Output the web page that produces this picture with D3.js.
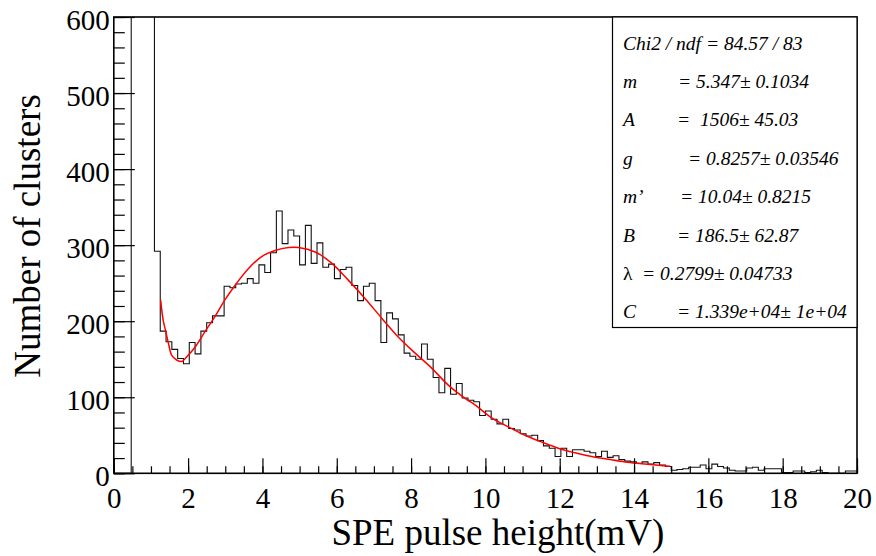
<!DOCTYPE html>
<html>
<head>
<meta charset="utf-8">
<script src="https://cdn.jsdelivr.net/npm/d3@7"></script>
<style>
  html, body { margin: 0; padding: 0; background: #fff; }
  svg { display: block; }
  svg text { font-family: "Liberation Serif", "Times New Roman", serif !important; fill: #000; white-space: pre; }
</style>
</head>
<body>
<svg id="chart" width="876" height="556"></svg>
<script>
// ---- data ----
const binLow = 0, binHigh = 20, nBins = 128;
const counts = [
  0, 0, 0, 2400, 2000, 1200, 700, 292, 187, 173,
  163, 151, 144, 172, 157, 187, 198, 207, 207, 246,
  244, 249, 250, 256, 250, 274, 264, 290, 345, 302,
  320, 312, 274, 326, 276, 303, 271, 275, 256, 268,
  271, 247, 227, 246, 250, 227, 172, 211, 203, 182,
  158, 154, 150, 170, 150, 126, 106, 138, 104, 118,
  99, 96, 94, 76, 82, 71, 65, 71, 59, 57,
  52, 49, 50, 43, 36, 33, 22, 33, 22, 31,
  31, 29, 27, 22, 29, 21, 23, 18, 16, 15,
  13, 15, 12, 14, 11, 9, 4, 5, 6, 8,
  8, 11, 6, 12, 9, 7, 4, 3, 3, 7,
  8, 4, 6, 6, 6, 1, 1, 3, 3, 1,
  2, 4, 1, 0, 0, 0, 3, 3
];
const fitX = [1.26, 1.33, 1.40, 1.47, 1.56, 1.69, 1.83, 1.96, 2.19, 2.45, 2.72, 2.99, 3.26, 3.62, 3.98, 4.34, 4.70, 4.97, 5.42, 5.87, 6.31, 6.76, 7.21, 7.66, 8.11, 8.56, 9.00, 9.50, 9.72, 10.17, 10.62, 11.07, 11.52, 11.96, 12.41, 12.86, 13.31, 13.76, 14.21, 14.66, 14.97];
const fitY = [228, 201, 186, 171, 155, 149, 147, 153, 166, 186, 206, 228, 247, 269, 285, 293, 297, 297, 291, 276, 254, 230, 204, 179, 158, 138, 116, 97, 90, 73, 61, 50, 41, 33, 27, 22, 18.4, 15, 12.7, 10.5, 9.2];
const xTicks = [0, 2, 4, 6, 8, 10, 12, 14, 16, 18, 20];
const yTicks = [0, 100, 200, 300, 400, 500, 600];
const xTitle = "SPE pulse height(mV)";
const yTitle = "Number of clusters";
const statNames = ["m", "A", "g", "m\u2019", "B", "\u03BB", "C"];
const statValues = ["= 5.347\u00B1 0.1034", "=\u00A0 1506\u00B1 45.03", "= 0.8257\u00B1 0.03546", "= 10.04\u00B1 0.8215", "= 186.5\u00B1 62.87", "= 0.2799\u00B1 0.04733", "= 1.339e+04\u00B1 1e+04"];
const statHeader = "Chi2 / ndf = 84.57 / 83";

// ---- layout ----
const L = 113.8, R = 857, T = 17, B = 473.3;
const svg = d3.select("#chart");
const x = d3.scaleLinear().domain([0, 20]).range([L, R]);
const y = d3.scaleLinear().domain([0, 600]).range([B, T]);

svg.append("defs").append("clipPath").attr("id", "clip")
  .append("rect").attr("x", L).attr("y", T).attr("width", R - L).attr("height", B - T);

// histogram step path
const bw = (binHigh - binLow) / nBins;
let pts = [];
counts.forEach((c, i) => {
  pts.push([binLow + i * bw, c]);
  pts.push([binLow + (i + 1) * bw, c]);
});
const histLine = d3.line().x(d => x(d[0])).y(d => y(d[1]));
svg.append("path")
  .attr("d", histLine(pts))
  .attr("clip-path", "url(#clip)")
  .attr("fill", "none").attr("stroke", "#111").attr("stroke-width", 1.1);

// fit curve
const fitLine = d3.line().x(d => x(d[0])).y(d => y(d[1])).curve(d3.curveCatmullRom.alpha(0.5));
svg.append("path")
  .attr("d", fitLine(fitX.map((v, i) => [v, fitY[i]])))
  .attr("fill", "none").attr("stroke", "#ff0000").attr("stroke-width", 1.5);

// axes (ticks pointing inward)
const gx = svg.append("g").attr("transform", `translate(0,${B})`);
gx.call(d3.axisBottom(x).tickValues(d3.range(0, 20.01, 0.5)).tickSize(-7).tickFormat(""));
const gx2 = svg.append("g").attr("transform", `translate(0,${B})`);
gx2.call(d3.axisBottom(x).tickValues(xTicks).tickSize(-15).tickPadding(12).tickFormat(d3.format("d")));
const gy = svg.append("g").attr("transform", `translate(${L},0)`);
gy.call(d3.axisLeft(y).tickValues(d3.range(0, 601, 20)).tickSize(-11).tickFormat(""));
const gy2 = svg.append("g").attr("transform", `translate(${L},0)`);
gy2.call(d3.axisLeft(y).tickValues(yTicks).tickSize(-21).tickPadding(4).tickFormat(d3.format("d")));
[gx, gx2, gy, gy2].forEach(g => {
  g.attr("font-family", null).attr("font-size", null);
  g.select(".domain").remove();
  g.selectAll(".tick line").attr("stroke", "#000").attr("stroke-width", 1.2);
});
gx2.selectAll(".tick text").style("font-size", "29px")
  .attr("dy", null).attr("y", 35);
gy2.selectAll(".tick text").style("font-size", "29px")
  .attr("dy", null).attr("y", 12);

// frame
svg.append("rect").attr("x", L).attr("y", T).attr("width", R - L).attr("height", B - T)
  .attr("fill", "none").attr("stroke", "#000").attr("stroke-width", 1.6);

// titles
svg.append("text").attr("x", (L + R) / 2 + 12.5).attr("y", 545).attr("text-anchor", "middle")
  .style("font-size", "37px").text(xTitle);
svg.append("text").attr("transform", "translate(40,236) rotate(-90)").attr("text-anchor", "middle")
  .style("font-size", "37px").text(yTitle);

// stats box
const bx = 612.5, by = 17, bwid = 857 - 612.5, bh = 327.5 - 17;
svg.append("rect").attr("x", bx).attr("y", by).attr("width", bwid).attr("height", bh)
  .attr("fill", "#fff").attr("stroke", "#000").attr("stroke-width", 1.2);
const rowY = d3.range(8).map(i => 49.5 + i * 38.4);
const valX = [678, 677, 688, 680, 677, 642, 677];
const fs = "19.5px";
svg.append("text").attr("x", 623).attr("y", rowY[0]).style("font-size", fs)
  .attr("font-style", "italic").text(statHeader);
statNames.forEach((n, i) => {
  svg.append("text").attr("x", 623).attr("y", rowY[i + 1]).style("font-size", fs)
    .attr("font-style", n === "\u03BB" ? "normal" : "italic").text(n);
  svg.append("text").attr("x", valX[i]).attr("y", rowY[i + 1]).style("font-size", fs)
    .attr("font-style", "italic").text(statValues[i]);
});
</script>
</body>
</html>
